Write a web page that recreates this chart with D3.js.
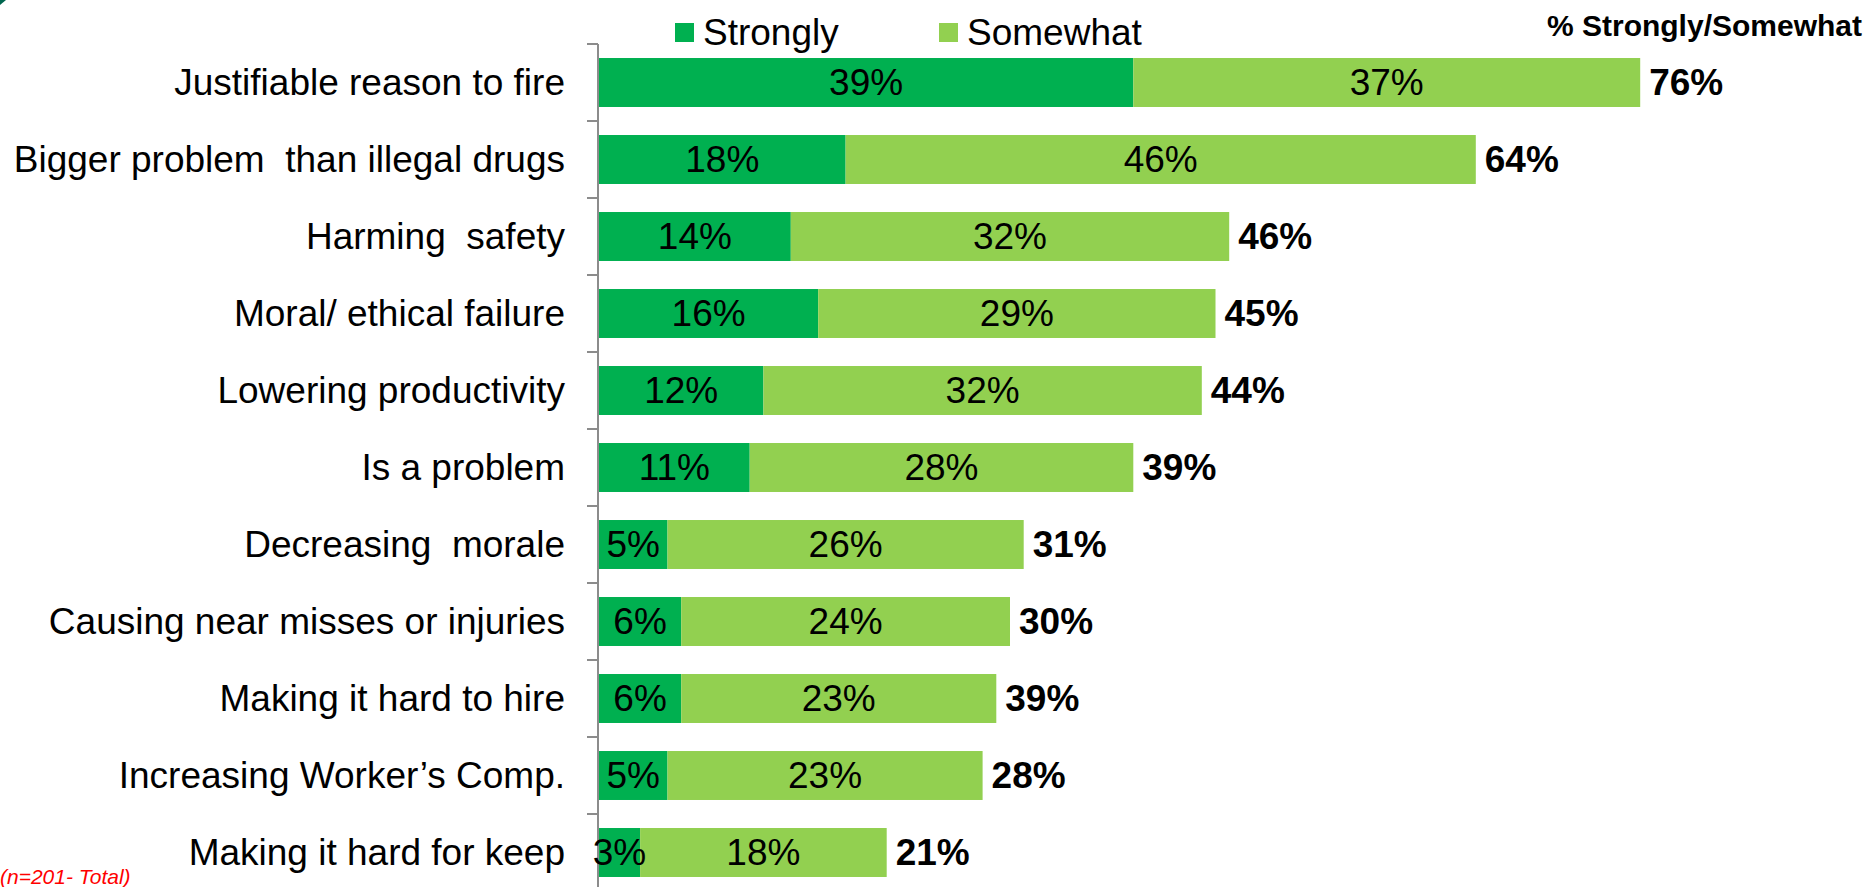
<!DOCTYPE html>
<html>
<head>
<meta charset="utf-8">
<script src="https://cdn.jsdelivr.net/npm/d3@7"></script>
<style>
  html, body { margin: 0; padding: 0; background: #fff; overflow: hidden; }
  svg { display: block; font-family: "Liberation Sans", Arial, sans-serif; }
  text { white-space: pre; }
</style>
</head>
<body>
<svg id="chart" width="1871" height="887"></svg>
<script>
// ---- data ----
const categories = [
  "Justifiable reason to fire",
  "Bigger problem  than illegal drugs",
  "Harming  safety",
  "Moral/ ethical failure",
  "Lowering productivity",
  "Is a problem",
  "Decreasing  morale",
  "Causing near misses or injuries",
  "Making it hard to hire",
  "Increasing Worker\u2019s Comp.",
  "Making it hard for keep"
];
const strongly = [39, 18, 14, 16, 12, 11, 5, 6, 6, 5, 3];
const somewhat = [37, 46, 32, 29, 32, 28, 26, 24, 23, 23, 18];
const totalLabels = ["76%", "64%", "46%", "45%", "44%", "39%", "31%", "30%", "39%", "28%", "21%"];
const seriesNames = ["Strongly", "Somewhat"];
const colors = ["#00B050", "#92D050"];

// ---- layout ----
const x0 = 599;
const svg = d3.select("#chart");

const x = d3.scaleLinear().domain([0, 100]).range([x0, x0 + 1370]);
const y = d3.scaleBand().domain(categories).range([44, 44 + 11 * 77])
  .paddingInner(0.364).paddingOuter(0.182);
const color = d3.scaleOrdinal().domain(seriesNames).range(colors);

const rows = categories.map((c, i) => ({
  cat: c, s: strongly[i], w: somewhat[i], total: totalLabels[i]
}));

// corner decoration
svg.append("path").attr("d", "M0,0 L6,0 L0,5 Z").attr("fill", "#00664f");

// axis (left, with ticks at band boundaries)
const axisG = svg.append("g");
axisG.append("line")
  .attr("x1", 598).attr("x2", 598)
  .attr("y1", y.range()[0]).attr("y2", y.range()[1])
  .attr("stroke", "#8c8c8c").attr("stroke-width", 2);
const boundaries = d3.range(categories.length + 1).map(i => y.range()[0] + i * y.step());
axisG.selectAll("line.tick").data(boundaries).join("line")
  .attr("class", "tick")
  .attr("x1", 587).attr("x2", 598)
  .attr("y1", d => d).attr("y2", d => d)
  .attr("stroke", "#8c8c8c").attr("stroke-width", 2);

// category labels
svg.append("g").selectAll("text").data(rows).join("text")
  .attr("x", 565)
  .attr("y", d => y(d.cat) + y.bandwidth() / 2)
  .attr("dy", "0.35em")
  .attr("text-anchor", "end")
  .attr("font-size", 37)
  .attr("fill", "#000")
  .text(d => d.cat);

// bars
const bars = svg.append("g");
bars.selectAll("rect.s").data(rows).join("rect")
  .attr("class", "s")
  .attr("x", x(0))
  .attr("y", d => y(d.cat))
  .attr("width", d => x(d.s) - x(0))
  .attr("height", y.bandwidth())
  .attr("fill", color("Strongly"));
bars.selectAll("rect.w").data(rows).join("rect")
  .attr("class", "w")
  .attr("x", d => x(d.s))
  .attr("y", d => y(d.cat))
  .attr("width", d => x(d.s + d.w) - x(d.s))
  .attr("height", y.bandwidth())
  .attr("fill", color("Somewhat"));

// segment labels
const lab = svg.append("g").attr("font-size", 37).attr("fill", "#000").attr("text-anchor", "middle");
lab.selectAll("text.s").data(rows).join("text")
  .attr("class", "s")
  .attr("x", d => (x(0) + x(d.s)) / 2)
  .attr("y", d => y(d.cat) + y.bandwidth() / 2)
  .attr("dy", "0.35em")
  .text(d => d.s + "%");
lab.selectAll("text.w").data(rows).join("text")
  .attr("class", "w")
  .attr("x", d => (x(d.s) + x(d.s + d.w)) / 2)
  .attr("y", d => y(d.cat) + y.bandwidth() / 2)
  .attr("dy", "0.35em")
  .text(d => d.w + "%");

// totals
svg.append("g").selectAll("text").data(rows).join("text")
  .attr("x", d => x(d.s + d.w) + 9)
  .attr("y", d => y(d.cat) + y.bandwidth() / 2)
  .attr("dy", "0.35em")
  .attr("font-size", 37)
  .attr("font-weight", "bold")
  .attr("fill", "#000")
  .text(d => d.total);

// legend
const legendX = [675, 939];
const leg = svg.append("g");
seriesNames.forEach((n, i) => {
  leg.append("rect").attr("x", legendX[i]).attr("y", 23).attr("width", 19).attr("height", 19)
    .attr("fill", color(n));
  leg.append("text").attr("x", legendX[i] + 28).attr("y", 45)
    .attr("font-size", 37).attr("fill", "#000").text(n);
});

// header
svg.append("text").attr("x", 1862).attr("y", 36)
  .attr("text-anchor", "end").attr("font-size", 30).attr("font-weight", "bold")
  .attr("fill", "#000").text("% Strongly/Somewhat");

// note
svg.append("text").attr("x", 0).attr("y", 884)
  .attr("font-size", 21).attr("font-style", "italic")
  .attr("fill", "#ff0000").text("(n=201- Total)");
</script>
</body>
</html>
